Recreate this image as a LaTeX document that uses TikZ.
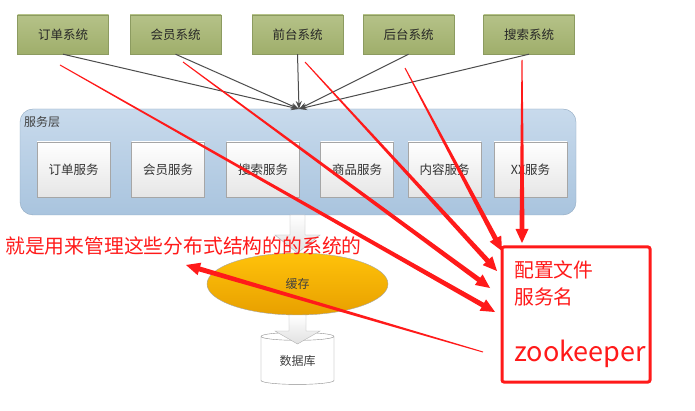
\documentclass[tikz,border=0pt]{standalone}
\usepackage{fontspec}
\newfontfamily\cjk{Noto Sans CJK SC}
\usetikzlibrary{arrows.meta,shapes.geometric,calc}
\definecolor{zkred}{HTML}{FF1A1A}
\definecolor{olivetop}{HTML}{B5C288}
\definecolor{olivebot}{HTML}{9FAE6B}
\definecolor{olivedraw}{HTML}{8C9B60}
\definecolor{layertop}{HTML}{C8DAEC}
\definecolor{layerbot}{HTML}{A9C4DE}
\definecolor{layerdraw}{HTML}{8FA8C0}
\definecolor{cachetop}{HTML}{FFC20A}
\definecolor{cachebot}{HTML}{E8A000}
\newcommand\zkarrow[2]{%
  \coordinate (ta) at (#1);
  \coordinate (tb) at (#2);
  \coordinate (tm) at ($(tb)!14pt!(ta)$);
  \coordinate (tn) at ($(tb)!12pt!(ta)$);
  \fill[zkred] ($(ta)!0.5pt!90:(tn)$) -- ($(tn)!2.5pt!-90:(ta)$) -- ($(tn)!2.5pt!90:(ta)$) -- ($(ta)!0.5pt!-90:(tn)$) -- cycle;
  \fill[zkred] (tb) -- ($(tm)!6.5pt!90:(tb)$) -- ($(tm)!6.5pt!-90:(tb)$) -- cycle;
}
\tikzset{
  sysbox/.style={draw=olivedraw, top color=olivetop, bottom color=olivebot, minimum width=91pt, minimum height=39pt, inner sep=0pt, font=\cjk\fontsize{12.5}{14}\selectfont, text=black!85},
  svcbox/.style={draw=black!35, top color=white, bottom color=black!10, minimum width=73pt, minimum height=55pt, inner sep=0pt, font=\cjk\fontsize{12.5}{14}\selectfont, text=black!80},
  grayarrow/.style={draw=black!70, line width=1pt, -{Stealth[length=8pt,width=6pt]}},
  blockarrow/.style={draw=black!30, top color=white, bottom color=black!12},
  redtext/.style={text=zkred, font=\cjk\fontsize{19.8}{22}\selectfont, inner sep=0pt},
}
\begin{document}
\begin{tikzpicture}[x=1pt,y=-1pt]
\useasboundingbox[fill=white] (0,0) rectangle (695,411);

% top systems
\node[sysbox] (t1) at (63,34.5) {订单系统};
\node[sysbox] (t2) at (175.5,34.5) {会员系统};
\node[sysbox] (t3) at (297.5,34.5) {前台系统};
\node[sysbox] (t4) at (408.5,34.5) {后台系统};
\node[sysbox] (t5) at (529,34.5) {搜索系统};

% service layer
\node[draw=layerdraw, top color=layertop, bottom color=layerbot, rounded corners=13pt, minimum width=556pt, minimum height=106pt, inner sep=0pt] (layer) at (298,162) {};
\node[anchor=west, font=\cjk\fontsize{12}{14}\selectfont, text=black!75, inner sep=0pt] (layerlbl) at (24,122) {服务层};

\node[svcbox] (s1) at (73.5,169.5) {订单服务};
\node[svcbox] (s2) at (168,169.5) {会员服务};
\node[svcbox] (s3) at (263,169.5) {搜索服务};
\node[svcbox] (s4) at (357,169.5) {商品服务};
\node[svcbox] (s5) at (444.5,169.5) {内容服务};
\node[svcbox] (s6) at (530.5,169.5) {XX服务};

% gray arrows into the service layer
\coordinate (hub) at (299,109);
\draw[grayarrow] (t1.south) -- (hub);
\draw[grayarrow] (t2.south) -- (hub);
\draw[grayarrow] (t3.south) -- (hub);
\draw[grayarrow] (t4.south) -- (hub);
\draw[grayarrow] (t5.south) -- (hub);

% block arrow layer -> cache
\path[blockarrow] (290,215) -- (305,215) -- (305,235) -- (320,235) -- (297.5,253) -- (275,235) -- (290,235) -- cycle;

% cache
\node[ellipse, draw=black!35, top color=cachetop, bottom color=cachebot, minimum width=181pt, minimum height=62pt, inner sep=0pt, font=\cjk\fontsize{12}{14}\selectfont, text=black!75] (cache) at (297.5,284) {缓存};

% database
\node[cylinder, shape border rotate=90, aspect=0.22, draw=black!45, fill=white, minimum width=73pt, minimum height=52pt, inner sep=0pt, font=\cjk\fontsize{12}{14}\selectfont, text=black!75] (db) at (297.5,360.5) {数据库};

% block arrow cache -> database
\path[blockarrow] (289,315) -- (306,315) -- (306,331) -- (320,331) -- (297.5,344) -- (275,331) -- (289,331) -- cycle;

% annotation text
\node[redtext, anchor=west] (note) at (5,246) {就是用来管理这些分布式结构的的系统的};

% zookeeper box
\draw[zkred, line width=3pt, rounded corners=2pt] (502,247) rectangle (650,382);
\node[redtext, anchor=west] (cfg) at (514,270) {配置文件};
\node[redtext, anchor=west] (svcname) at (514,297) {服务名};
\node[text=zkred, font=\cjk\fontsize{27}{30}\selectfont, inner sep=0pt, anchor=west] (zk) at (514,354) {zookeeper};

% red arrows
\coordinate (r1s) at (60,65);   \coordinate (r1e) at (495,312);
\coordinate (r2s) at (183,62);  \coordinate (r2e) at (490,288);
\coordinate (r3s) at (305,62);  \coordinate (r3e) at (497,271);
\coordinate (r4s) at (405,68);  \coordinate (r4e) at (502,251);
\coordinate (r5s) at (522,60);  \coordinate (r5e) at (522,243);
\coordinate (r6s) at (483,352); \coordinate (r6e) at (186,265);
\zkarrow{r1s}{r1e}
\zkarrow{r2s}{r2e}
\zkarrow{r3s}{r3e}
\zkarrow{r4s}{r4e}
\zkarrow{r5s}{r5e}
\zkarrow{r6s}{r6e}
\end{tikzpicture}
\end{document}
